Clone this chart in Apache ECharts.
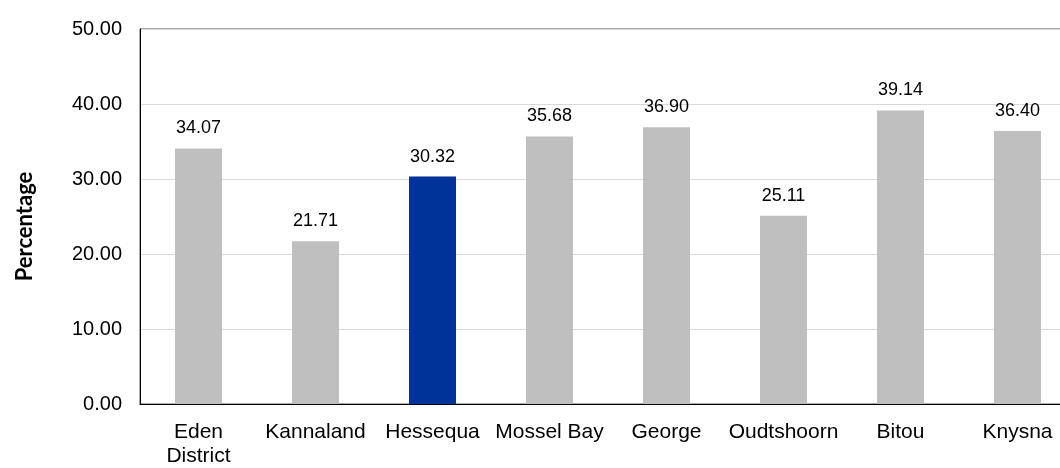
<!DOCTYPE html>
<html><head><meta charset="utf-8">
<script src="https://cdn.jsdelivr.net/npm/echarts@6/dist/echarts.min.js"></script>
<style>html,body{margin:0;padding:0;background:#fff;overflow:hidden;width:1060px;height:468px}#w{width:1060px;height:468px;overflow:hidden;position:relative}#c{width:1080px;height:468px;position:absolute;left:0;top:0}</style>
</head><body><div id="w"><div id="c"></div></div>
<script>
const categories = ["Eden\nDistrict","Kannaland","Hessequa","Mossel Bay","George","Oudtshoorn","Bitou","Knysna"];
const values = [34.07,21.71,30.32,35.68,36.90,25.11,39.14,36.40];
const highlight = "Hessequa";
const chart = echarts.init(document.getElementById('c'));
const F = 'Liberation Sans, Arial, sans-serif';
chart.setOption({
  animation:false,
  grid:{left:140, top:29, width:936, height:385, show:true, borderColor:'#555', borderWidth:1},
  xAxis:{type:'category', data:categories,
    axisLine:{lineStyle:{color:'#000',width:1}}, axisTick:{show:false},
    axisLabel:{color:'#000', fontFamily:F, fontSize:21, margin:16, lineHeight:24, interval:0}},
  yAxis:{type:'value', min:0, max:50, interval:10,
    name:'Percentage', nameLocation:'middle', nameGap:104, nameRotate:90,
    nameTextStyle:{color:'#000', fontFamily:'Lato, Liberation Sans, sans-serif', fontSize:22, fontWeight:'bold', padding:[0,20,0,0]},
    axisLine:{show:true, lineStyle:{color:'#000'}}, axisTick:{show:false},
    axisLabel:{color:'#000', fontFamily:F, fontSize:20, margin:18, formatter:v=>v.toFixed(2)},
    splitLine:{lineStyle:{color:'#d9d9d9'}}},
  series:[{type:'bar', barWidth:47,
    data: values.map((v,i)=>({value:v, itemStyle:{color: categories[i]===highlight ? '#003399' : '#bfbfbf'}})),
    label:{show:true, position:'top', distance:11, color:'#000', fontFamily:F, fontSize:18, formatter:p=>p.value.toFixed(2)}}]
});
</script></body></html>
